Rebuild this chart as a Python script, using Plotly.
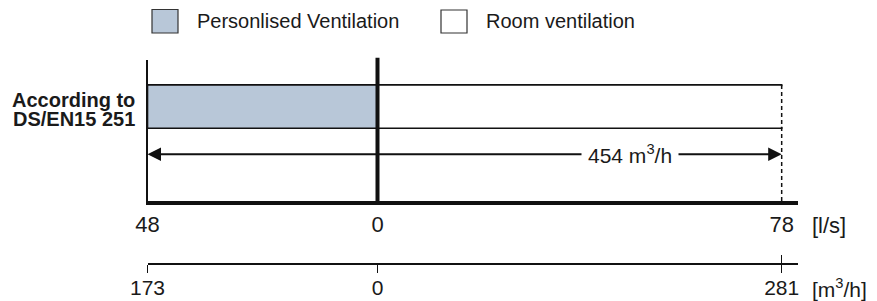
import plotly.graph_objects as go

# ---------------- data ----------------
CATEGORY = "According to DS/EN15 251"
CATEGORY_LINES = ["According to", "DS/EN15 251"]
SERIES_NAMES = ["Personlised Ventilation", "Room ventilation"]
PV_LS = 48        # personalised ventilation, l/s (drawn to the left)
RV_LS = 78        # room ventilation, l/s (drawn to the right)
PV_M3H = 173      # personalised ventilation, m3/h
RV_M3H = 281      # room ventilation, m3/h
TOTAL_M3H = 454   # total, m3/h
LS_LEFT_TICKS = [-PV_LS, 0]
LS_LEFT_TEXT = [str(PV_LS), "0"]
LS_RIGHT_TICKS = [RV_LS]
LS_RIGHT_TEXT = [str(RV_LS)]
M3H_LEFT_TEXT = [str(PV_M3H), "0"]
M3H_RIGHT_TEXT = [str(RV_M3H)]
UNIT_LS = "[l/s]"
UNIT_M3H = "[m<sup>3</sup>/h]"
TOTAL_TEXT = f"{TOTAL_M3H} m<sup>3</sup>/h"

# ---------------- style / layout ----------------
W, H = 877, 301
FONT = "Liberation Sans, Arial, sans-serif"
TXT = "#1a1a1a"
PV_COLOR = "#b8c7d8"
EDGE = "#111111"
FS = 20
FS_TICK = 22
FS_TICK2 = 21


def px(x):
    return x / W


def py(y):
    return 1 - y / H


X_SPLIT = px(377.5)
X2_MAX = 81.15
BAR_W = 0.6
Y_RANGE = [-1.307, 0.645]
ARROW_Y = -0.661
TOTAL_LABEL_X = 48.7
M3H_POS = py(263.7)

fig = go.Figure()
fig.add_trace(go.Bar(
    y=[CATEGORY], x=[-PV_LS], orientation="h", xaxis="x", yaxis="y",
    width=BAR_W, name=SERIES_NAMES[0], showlegend=False, hoverinfo="skip",
    marker=dict(color=PV_COLOR, line=dict(color=EDGE, width=1.6)),
))
fig.add_trace(go.Bar(
    y=[CATEGORY], x=[RV_LS], orientation="h", xaxis="x2", yaxis="y",
    width=BAR_W, name=SERIES_NAMES[1], showlegend=False, hoverinfo="skip",
    marker=dict(color="white", line=dict(color=EDGE, width=1.6)),
))
# carrier traces so the m3/h axes are drawn
for ax_id, xv in [("x3", -PV_LS), ("x4", RV_LS), ("x5", -PV_LS), ("x6", RV_LS)]:
    fig.add_trace(go.Scatter(x=[xv], y=[CATEGORY], xaxis=ax_id, yaxis="y", mode="markers",
                             marker=dict(opacity=0, size=1), showlegend=False, hoverinfo="skip"))

common_x = dict(showgrid=False, zeroline=False, fixedrange=True, automargin=False)
font_ls = dict(family=FONT, size=FS_TICK, color=TXT)
font_m3h = dict(family=FONT, size=FS_TICK2, color=TXT)

fig.update_layout(
    width=W, height=H, autosize=False,
    margin=dict(l=0, r=0, t=0, b=0, pad=0, autoexpand=False),
    paper_bgcolor="white", plot_bgcolor="rgba(0,0,0,0)",
    barmode="overlay", showlegend=False,
    font=dict(family=FONT, size=FS, color=TXT),
    xaxis=dict(domain=[px(147.5), X_SPLIT], range=[-PV_LS, 0], anchor="y",
               showline=True, linewidth=3.5, linecolor=EDGE, ticks="",
               ticklabelstandoff=1, tickfont=font_ls,
               tickmode="array", tickvals=LS_LEFT_TICKS, ticktext=LS_LEFT_TEXT,
               **common_x),
    xaxis2=dict(domain=[X_SPLIT, px(798)], range=[0, X2_MAX], anchor="y",
                showline=True, linewidth=3.5, linecolor=EDGE, ticks="",
                ticklabelstandoff=1, tickfont=font_ls,
                tickmode="array", tickvals=LS_RIGHT_TICKS, ticktext=LS_RIGHT_TEXT,
                **common_x),
    xaxis3=dict(overlaying="x", anchor="free", position=M3H_POS,
                range=[-PV_LS, 0], showline=True, linewidth=2, linecolor=EDGE,
                ticks="outside", ticklen=8, tickwidth=1.5, tickcolor=EDGE,
                ticklabelstandoff=-3, tickfont=font_m3h,
                tickmode="array", tickvals=LS_LEFT_TICKS, ticktext=M3H_LEFT_TEXT,
                **common_x),
    xaxis4=dict(overlaying="x2", anchor="free", position=M3H_POS,
                range=[0, X2_MAX], showline=True, linewidth=2, linecolor=EDGE,
                ticks="outside", ticklen=8, tickwidth=1.5, tickcolor=EDGE,
                ticklabelstandoff=-3, tickfont=font_m3h,
                tickmode="array", tickvals=LS_RIGHT_TICKS, ticktext=M3H_RIGHT_TEXT,
                **common_x),
    xaxis5=dict(overlaying="x", anchor="free", position=M3H_POS,
                range=[-PV_LS, 0], showline=False, showticklabels=False,
                ticks="inside", ticklen=9, tickwidth=1.5, tickcolor=EDGE,
                tickmode="array", tickvals=LS_LEFT_TICKS, **common_x),
    xaxis6=dict(overlaying="x2", anchor="free", position=M3H_POS,
                range=[0, X2_MAX], showline=False, showticklabels=False,
                ticks="inside", ticklen=9, tickwidth=1.5, tickcolor=EDGE,
                tickmode="array", tickvals=LS_RIGHT_TICKS, **common_x),
    yaxis=dict(domain=[py(201), py(60)], range=Y_RANGE, anchor="x",
               type="category", categoryarray=[CATEGORY], automargin=False,
               showline=True, linewidth=2, linecolor=EDGE,
               showticklabels=False, ticks="", showgrid=False, zeroline=False,
               fixedrange=True),
)

shapes = [
    # zero divider
    dict(type="line", xref="paper", yref="paper", x0=X_SPLIT, x1=X_SPLIT,
         y0=py(203), y1=py(57.7), line=dict(color=EDGE, width=4)),
    # hide solid right edge of room bar, replace by dashed line
    dict(type="line", xref="x2", yref="y", x0=RV_LS, x1=RV_LS,
         y0=-BAR_W / 2 + 0.02, y1=BAR_W / 2 - 0.02, line=dict(color="white", width=3)),
    dict(type="line", xref="x2", yref="y", x0=RV_LS, x1=RV_LS,
         y0=Y_RANGE[0], y1=BAR_W / 2, line=dict(color=EDGE, width=1.5, dash="4px,3px")),
    # legend swatches
    dict(type="rect", xref="paper", yref="paper", x0=px(152), x1=px(178),
         y0=py(33), y1=py(9.5), fillcolor=PV_COLOR, line=dict(color="#333333", width=1.2)),
    dict(type="rect", xref="paper", yref="paper", x0=px(441), x1=px(467),
         y0=py(33), y1=py(10), fillcolor="white", line=dict(color="#333333", width=1.2)),
]
fig.update_layout(shapes=shapes)

ann = []
# legend texts
ann.append(dict(xref="paper", yref="paper", x=px(195), y=py(21), text=SERIES_NAMES[0],
                xanchor="left", yanchor="middle", showarrow=False))
ann.append(dict(xref="paper", yref="paper", x=px(484), y=py(21), text=SERIES_NAMES[1],
                xanchor="left", yanchor="middle", showarrow=False))
# category label (two lines)
for line_text, yy in zip(CATEGORY_LINES, [100, 119]):
    ann.append(dict(xref="paper", yref="paper", x=px(137), y=py(yy), text=f"<b>{line_text}</b>",
                    xanchor="right", yanchor="middle", showarrow=False))
# units
ann.append(dict(xref="paper", yref="paper", x=px(810), y=py(225.5), text=UNIT_LS,
                xanchor="left", yanchor="middle", showarrow=False, font=dict(size=FS_TICK)))
ann.append(dict(xref="paper", yref="paper", x=px(810), y=py(287.5), text=UNIT_M3H,
                xanchor="left", yanchor="middle", showarrow=False, font=dict(size=FS_TICK2)))
# double arrow for the total
ann.append(dict(xref="x", yref="y", x=-PV_LS, y=ARROW_Y, axref="x", ayref="y", ax=0, ay=ARROW_Y,
                text="", showarrow=True, arrowhead=2, arrowsize=1.35, arrowwidth=2, arrowcolor=EDGE))
ann.append(dict(xref="x2", yref="y", x=RV_LS, y=ARROW_Y, axref="x2", ayref="y", ax=0, ay=ARROW_Y,
                text="", showarrow=True, arrowhead=2, arrowsize=1.35, arrowwidth=2, arrowcolor=EDGE))
ann.append(dict(xref="x2", yref="y", x=TOTAL_LABEL_X, y=ARROW_Y, text=TOTAL_TEXT,
                showarrow=False, bgcolor="white", borderpad=6, font=dict(size=21)))
fig.update_layout(annotations=ann)

fig.write_html("out.html", config={"displayModeBar": False, "staticPlot": True},
               post_script="document.body.style.margin='0px';")
